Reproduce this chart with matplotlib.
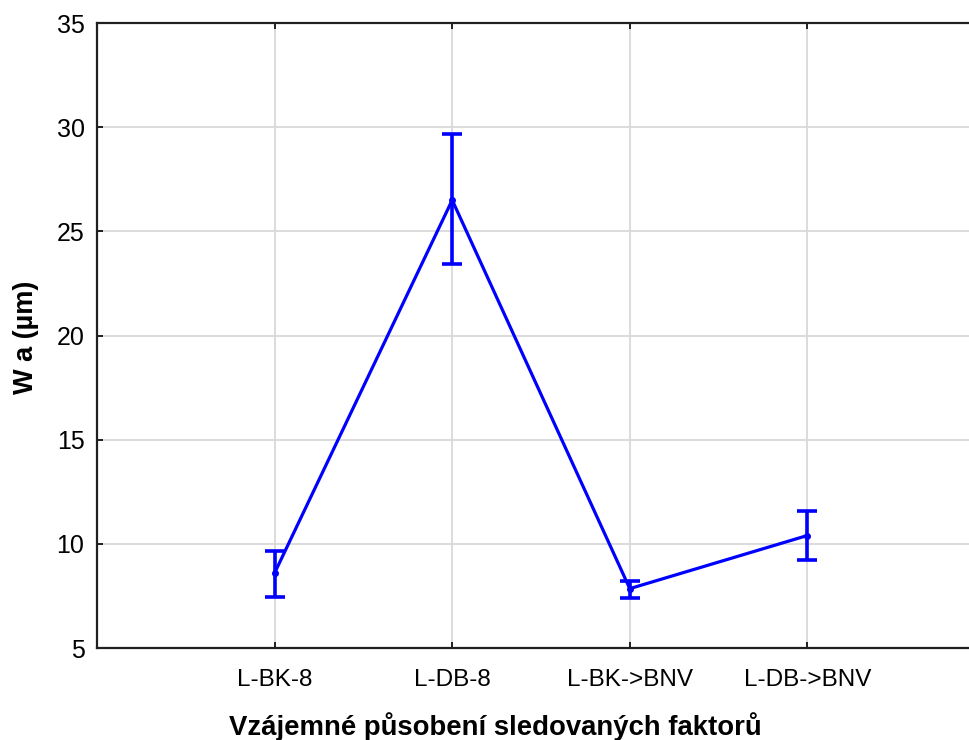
import matplotlib
matplotlib.use("Agg")
import matplotlib.pyplot as plt
import numpy as np

# Group means with lower / upper confidence limits
categories = ["L-BK-8", "L-DB-8", "L-BK->BNV", "L-DB->BNV"]
means = [8.6, 26.5, 7.85, 10.4]
lower = [7.45, 23.43, 7.39, 9.21]
upper = [9.66, 29.68, 8.23, 11.59]
yticks = [5, 10, 15, 20, 25, 30, 35]

plt.rcParams["font.family"] = ["Liberation Sans", "DejaVu Sans"]

fig = plt.figure(figsize=(9.69, 7.40), dpi=100)
ax = fig.add_axes([97 / 969, 1 - 648 / 740, 888 / 969, 625 / 740])

x = np.arange(1, len(categories) + 1)
m = np.array(means)
yerr = np.vstack([m - np.array(lower), np.array(upper) - m])

ax.errorbar(x, m, yerr=yerr, color="#0000ff", lw=2.3, elinewidth=2.6,
            capsize=7.5, capthick=2.6, marker="o", ms=4, zorder=3)

ax.set_xlim(0, 5)
ax.set_ylim(5, 35)
ax.set_yticks(yticks)
ax.set_xticks(x)
ax.set_xticklabels(categories)
ax.tick_params(axis="y", labelsize=18, direction="in", length=4, width=1.2, pad=9)
ax.tick_params(axis="x", labelsize=17.5, direction="in", length=4, width=1.2, pad=15, top=True)

ax.grid(True, color="#d9d9d9", lw=1.3)
ax.set_axisbelow(True)
for s in ax.spines.values():
    s.set_linewidth(1.6)
    s.set_color("#202020")

ax.set_ylabel("W a (µm)", fontsize=19.5, fontweight="bold")
ax.yaxis.set_label_coords(-(97 - 26) / 888, (648 - 337) / 625)
ax.set_xlabel("Vzájemné působení sledovaných faktorů", fontsize=19.8,
              fontweight="bold")
ax.xaxis.set_label_coords((495 - 97) / 888, -(727 - 648) / 625)
ax.xaxis.label.set_va("center")
ax.yaxis.label.set_va("center")

fig.savefig("out.png", dpi=100)
